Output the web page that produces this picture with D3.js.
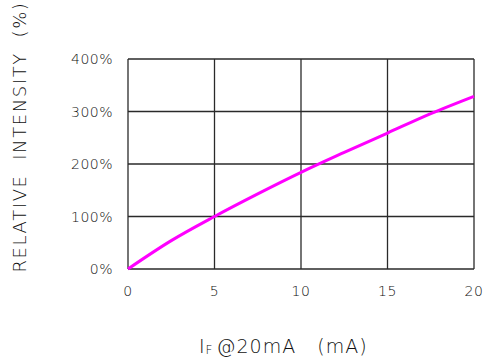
<!DOCTYPE html>
<html>
<head>
<meta charset="utf-8">
<script src="https://cdn.jsdelivr.net/npm/d3@7"></script>
<style>
  body { margin: 0; background: #fff; }
  svg text { font-family: "DejaVu Sans", sans-serif; font-weight: 200; fill: #111; }
</style>
</head>
<body>
<svg id="chart" width="487" height="358"></svg>
<script>
const currentMA = [0, 2.5, 5, 7.5, 10, 12.5, 15, 17.5, 20];
const relIntensity = [0, 54, 100, 143, 184, 222, 259, 296, 329];
const xTicks = [0, 5, 10, 15, 20];
const yTicks = [0, 100, 200, 300, 400];
const yTickLabels = ["0%", "100%", "200%", "300%", "400%"];

const svg = d3.select("#chart");
const margin = { left: 128, right: 13, top: 59, bottom: 89 };
const W = 487, H = 358;
const x = d3.scaleLinear().domain([0, 20]).range([margin.left, W - margin.right]);
const y = d3.scaleLinear().domain([0, 400]).range([H - margin.bottom, margin.top]);

const grid = svg.append("g").attr("stroke", "#2a2a2a").attr("stroke-width", 1.3);
grid.selectAll(".vx").data(xTicks).enter().append("line")
  .attr("x1", d => x(d)).attr("x2", d => x(d))
  .attr("y1", y(0)).attr("y2", y(400));
grid.selectAll(".hy").data(yTicks).enter().append("line")
  .attr("x1", x(0)).attr("x2", x(20))
  .attr("y1", d => y(d)).attr("y2", d => y(d));

const line = d3.line().x((d, i) => x(currentMA[i])).y(d => y(d)).curve(d3.curveMonotoneX);
svg.append("path").datum(relIntensity)
  .attr("d", line).attr("fill", "none")
  .attr("stroke", "#ff00ff").attr("stroke-width", 3);

svg.selectAll(".xt").data(xTicks).enter().append("text")
  .attr("x", d => x(d)).attr("y", 296)
  .attr("text-anchor", "middle").attr("font-size", 14)
  .attr("letter-spacing", 0.5)
  .text(d => d);

svg.selectAll(".yt").data(yTicks).enter().append("text")
  .attr("x", 113).attr("y", d => y(d) + 5)
  .attr("text-anchor", "end").attr("font-size", 14)
  .attr("letter-spacing", 0.5)
  .text((d, i) => yTickLabels[i]);

const xt = svg.append("text").attr("x", 199).attr("y", 353)
  .attr("font-size", 19).attr("letter-spacing", 1);
xt.append("tspan").text("I");
xt.append("tspan").attr("font-size", 12).attr("dy", 1).text("F");
xt.append("tspan").attr("dy", -1).attr("dx", 3).text("@20mA\u00a0\u00a0\u00a0(mA)");

svg.append("text")
  .attr("transform", "translate(26,137) rotate(-90)")
  .attr("text-anchor", "middle").attr("font-size", 18)
  .attr("letter-spacing", 1.6)
  .text("RELATIVE\u00a0\u00a0INTENSITY\u00a0\u00a0(%)");
</script>
</body>
</html>
